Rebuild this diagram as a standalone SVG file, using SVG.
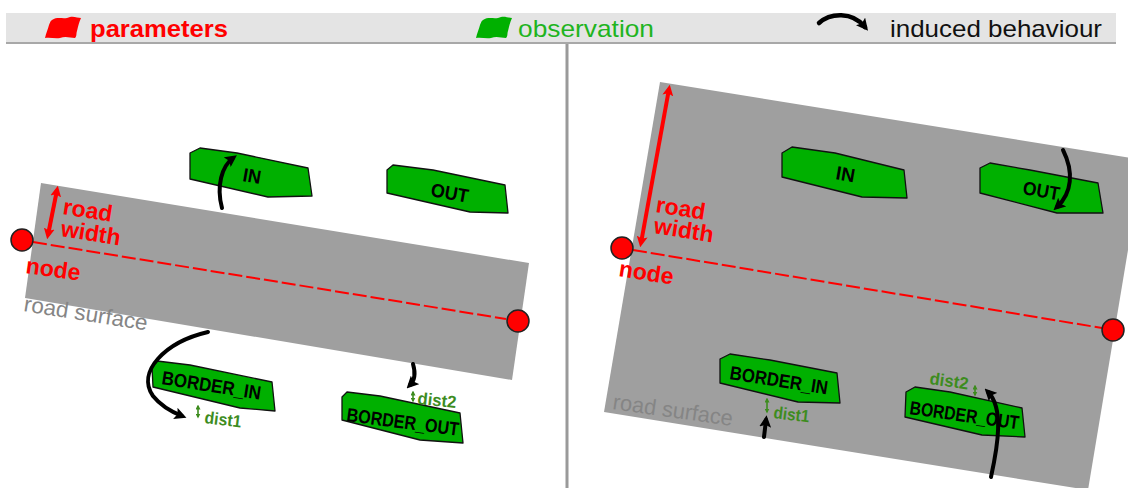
<svg xmlns="http://www.w3.org/2000/svg" width="1128" height="488" viewBox="0 0 1128 488">
<style>
.road{fill:#9f9f9f}
.obs{fill:#00b000;stroke:#111;stroke-width:1.3;stroke-linejoin:round}
.obsl{font-family:"Liberation Sans",Arial,sans-serif;font-weight:bold;font-size:19px;fill:#000}
.par{font-family:"Liberation Sans",Arial,sans-serif;font-weight:bold;font-size:22px;fill:#ff0000}
.surf{font-family:"Liberation Sans",Arial,sans-serif;font-size:22px;fill:#858585}
.dist{font-family:"Liberation Sans",Arial,sans-serif;font-weight:bold;font-size:17px;fill:#3d8c1e}
.node{fill:#ff0000;stroke:#222;stroke-width:1.5}
.axis{stroke:#ff0000;stroke-width:2;stroke-dasharray:14 4;fill:none}
.rw{stroke:#ff0000;stroke-width:4;fill:none;marker-start:url(#rh);marker-end:url(#rh)}
.beh{stroke:#000;stroke-width:4;fill:none;stroke-linecap:round;marker-end:url(#bh)}
.dd{stroke:#3d8c1e;stroke-width:1.6;fill:none;marker-start:url(#gh);marker-end:url(#gh)}
.leg{font-family:"Liberation Sans",Arial,sans-serif;font-size:24px}
</style>
<defs>
<marker id="bh" viewBox="0 0 10 10" refX="6" refY="5" markerWidth="12" markerHeight="12" markerUnits="userSpaceOnUse" orient="auto"><path d="M0,0 L10,5 L0,10 L2,5 z" fill="#000"/></marker>
<marker id="rh" viewBox="0 0 10 10" refX="6" refY="5" markerWidth="11" markerHeight="11" markerUnits="userSpaceOnUse" orient="auto-start-reverse"><path d="M0,0 L10,5 L0,10 L2,5 z" fill="#ff0000"/></marker>
<marker id="gh" viewBox="0 0 10 10" refX="7" refY="5" markerWidth="5" markerHeight="5" markerUnits="userSpaceOnUse" orient="auto-start-reverse"><path d="M0,0 L10,5 L0,10 z" fill="#3d8c1e"/></marker>
</defs>

<g id="legend">
<rect x="6" y="13" width="1110" height="30" fill="#e4e4e4"/>
<line x1="6" y1="43" x2="1116" y2="43" stroke="#a8a8a8" stroke-width="2"/>
<path d="M52,20 C58,16 64,20 70,17 C74,16 78,18 81,18 C79,22 78,27 77,31 C76,34 77,36 75,38 C70,38 66,36 60,38 C55,39 50,37 45,38 C46,33 48,29 49,25 C50,23 50,21 52,20 Z" fill="#ff0000"/>
<text class="par" x="90" y="37" style="font-size:24px" textLength="138" lengthAdjust="spacingAndGlyphs">parameters</text>
<path d="M483,20 C489,16 495,20 501,17 C505,16 509,18 512,18 C510,22 509,27 508,31 C507,34 508,36 506,38 C501,38 497,36 491,38 C486,39 481,37 476,38 C477,33 479,29 480,25 C481,23 481,21 483,20 Z" fill="#00b000"/>
<text class="leg" x="518" y="37" fill="#1fb41f" textLength="136" lengthAdjust="spacingAndGlyphs">observation</text>
<path d="M819,23 C830,13 852,11 865,27" stroke="#000" stroke-width="4.5" fill="none" stroke-linecap="round" marker-end="url(#bh)"/>
<text class="leg" x="890" y="37" fill="#111" textLength="212" lengthAdjust="spacingAndGlyphs">induced behaviour</text>
</g>

<line id="divider" x1="567" y1="44" x2="567" y2="488" stroke="#9a9a9a" stroke-width="3"/>

<g id="left-road">
<polygon class="road" points="41,183 529,263 512,380 25,298"/>
<text class="surf" transform="translate(23,311) rotate(9)" textLength="125" lengthAdjust="spacingAndGlyphs">road surface</text>
<line class="axis" x1="33" y1="242" x2="506" y2="319"/>
</g>
<g id="left-node-a"><circle class="node" cx="22" cy="240" r="11"/><text class="par" transform="translate(25,273) rotate(8)" style="font-size:23px">node</text></g>
<g id="left-node-b"><circle class="node" cx="518" cy="321" r="11"/></g>
<g id="left-road-width">
<line class="rw" x1="57" y1="190" x2="48" y2="235"/>
<text class="par" transform="translate(62,214) rotate(9)" style="font-size:23px">road</text>
<text class="par" transform="translate(60,236) rotate(9)" style="font-size:23px">width</text>
</g>
<g id="left-in"><polygon class="obs" points="190,153 200,148 237,153 308,168 312,196 268,197 190,179"/><text class="obsl" transform="translate(242,181) rotate(10)" textLength="18" lengthAdjust="spacingAndGlyphs">IN</text></g>
<g id="left-out"><polygon class="obs" points="387,170 393,165 433,170 505,185 508,213 470,212 387,193"/><text class="obsl" transform="translate(430,196) rotate(10)" textLength="38" lengthAdjust="spacingAndGlyphs">OUT</text></g>
<g id="left-border-in"><polygon class="obs" points="152,367 157,361 190,365 272,382 275,411 240,408 153,387"/><text class="obsl" transform="translate(161,384) rotate(9)" textLength="100" lengthAdjust="spacingAndGlyphs">BORDER_IN</text></g>
<g id="left-border-out"><polygon class="obs" points="342,397 347,392 380,396 460,413 463,443 420,440 342,420"/><text class="obsl" transform="translate(346,421) rotate(7.5)" textLength="113" lengthAdjust="spacingAndGlyphs">BORDER_OUT</text></g>
<g id="left-dist1"><line class="dd" x1="198" y1="406" x2="198" y2="417"/><text class="dist" transform="translate(204,423) rotate(7)" textLength="37" lengthAdjust="spacingAndGlyphs">dist1</text></g>
<g id="left-dist2"><line class="dd" x1="413" y1="392" x2="413" y2="401"/><text class="dist" transform="translate(417,404) rotate(6)" textLength="39" lengthAdjust="spacingAndGlyphs">dist2</text></g>

<g id="right-road">
<polygon class="road" points="660,82 1143,160 1088,490 604,412"/>
<text class="surf" transform="translate(612,409) rotate(8)" textLength="121" lengthAdjust="spacingAndGlyphs">road surface</text>
<line class="axis" x1="633" y1="250" x2="1102" y2="328"/>
</g>
<g id="right-node-a"><circle class="node" cx="622" cy="248" r="11"/><text class="par" transform="translate(618,276) rotate(9)" style="font-size:23px">node</text></g>
<g id="right-node-b"><circle class="node" cx="1113" cy="330" r="11"/></g>
<g id="right-road-width">
<line class="rw" x1="669" y1="89" x2="641" y2="243"/>
<text class="par" transform="translate(655,212) rotate(9)" style="font-size:23px">road</text>
<text class="par" transform="translate(653,233) rotate(9)" style="font-size:23px">width</text>
</g>
<g id="right-in"><polygon class="obs" points="782,153 792,147 835,153 904,170 907,198 862,197 782,177"/><text class="obsl" transform="translate(835,179) rotate(10)" textLength="19" lengthAdjust="spacingAndGlyphs">IN</text></g>
<g id="right-out"><polygon class="obs" points="980,168 990,163 1030,170 1098,183 1103,213 1057,213 980,193"/><text class="obsl" transform="translate(1022,194) rotate(10)" textLength="37" lengthAdjust="spacingAndGlyphs">OUT</text></g>
<g id="right-border-in"><polygon class="obs" points="720,359 730,354 770,360 837,373 840,403 798,402 720,383"/><text class="obsl" transform="translate(729,379) rotate(9)" textLength="99" lengthAdjust="spacingAndGlyphs">BORDER_IN</text></g>
<g id="right-border-out"><polygon class="obs" points="906,392 915,387 950,392 1022,408 1025,437 982,435 905,417"/><text class="obsl" transform="translate(909,414) rotate(8)" textLength="110" lengthAdjust="spacingAndGlyphs">BORDER_OUT</text></g>
<g id="right-dist1"><line class="dd" x1="767" y1="399" x2="767" y2="412"/><text class="dist" transform="translate(773,418) rotate(7)" textLength="36" lengthAdjust="spacingAndGlyphs">dist1</text></g>
<g id="right-dist2"><line class="dd" x1="975" y1="386" x2="975" y2="395"/><text class="dist" transform="translate(929,384) rotate(8)" textLength="39" lengthAdjust="spacingAndGlyphs">dist2</text></g>

<g id="connectors">
<path class="beh" d="M222,208 C216,186 222,166 233,158"/>
<path class="beh" d="M208,332 C165,342 136,372 153,396 C161,406 172,412 182,416"/>
<path class="beh" d="M413,364 C416,374 414,381 410,385"/>
<path class="beh" d="M1063,150 C1074,172 1072,193 1057,207"/>
<path class="beh" d="M764,437 L766,420"/>
<path class="beh" d="M991,477 C998,445 1004,408 988,392"/>
</g>
</svg>
